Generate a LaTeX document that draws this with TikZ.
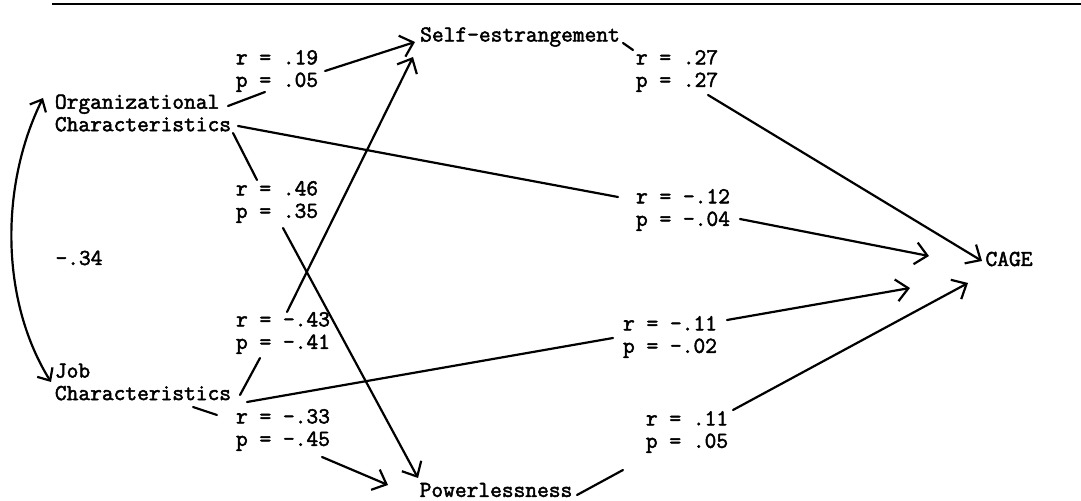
\documentclass[tikz,border=0pt]{standalone}
\usepackage{fontspec}
\newfontfamily\typewriter{Latin Modern Mono}[FakeBold=2.2]
\usetikzlibrary{arrows.meta,calc}
\begin{document}
\begin{tikzpicture}[x=0.5pt,y=-0.5pt,
  txt/.style={font=\typewriter\bfseries\fontsize{11.4}{11.25}\selectfont, inner sep=0pt, align=left},
  con/.style={line width=1.1pt, line cap=round},
  arr/.style={con, -{Straight Barb[length=6pt,width=11pt,line width=1.1pt]}},
  darr/.style={con, {Straight Barb[length=5pt,width=9pt,line width=1.1pt]}-{Straight Barb[length=5pt,width=9pt,line width=1.1pt]}},
  rule/.style={line width=1.3pt}]
\useasboundingbox (0,0) rectangle (1081,501);

% top rule
\coordinate (ruleL) at (52,4);
\coordinate (ruleR) at (1081,4);
\draw[rule] (ruleL) -- (ruleR);

% variables
\node[txt] (org)  at (143,113) {Organizational\\Characteristics};
\node[txt] (job)  at (143,382) {Job\\Characteristics};
\node[txt] (self) at (520,37)  {Self-estrangement};
\node[txt] (pow)  at (496,490) {Powerlessness};
\node[txt] (cage) at (1009,259) {CAGE};
\node[txt] (corr) at (79,258) {-.34};

% coefficient labels
\node[txt] (l1) at (277,71)  {r = .19\\p = .05};
\node[txt] (l2) at (677,71)  {r = .27\\p = .27};
\node[txt] (l3) at (277,202) {r = .46\\p = .35};
\node[txt] (l4) at (283,333) {r = -.43\\p = -.41};
\node[txt] (l5) at (683,210) {r = -.12\\p = -.04};
\node[txt] (l6) at (670,337) {r = -.11\\p = -.02};
\node[txt] (l7) at (283,430) {r = -.33\\p = -.45};
\node[txt] (l8) at (687,432) {r = .11\\p = .05};

% Organizational -> Self-estrangement
\draw[con] ($(org.center)+(85,-7)$) -- ($(l1.center)+(-12,21)$);
\draw[arr] ($(l1.center)+(48,0)$) -- ($(self.center)+(-105,5)$);
% Organizational -> CAGE
\draw[con] ($(org.center)+(95,13)$) -- ($(l5.center)+(-65,-13)$);
\draw[arr] ($(l5.center)+(57,9)$) -- ($(cage.center)+(-80,-3)$);
% Organizational -> Powerlessness
\draw[con] ($(org.center)+(90,20)$) -- ($(l3.center)+(-20,-22)$);
\draw[arr] ($(l3.center)+(6,26)$) -- ($(pow.center)+(-78,-12)$);
% Job -> Self-estrangement
\draw[con] ($(job.center)+(97,13)$) -- ($(l4.center)+(-23,25)$);
\draw[arr] ($(l4.center)+(4,-21)$) -- ($(self.center)+(-107,20)$);
% Job -> CAGE
\draw[con] ($(job.center)+(104,20)$) -- ($(l6.center)+(-57,1)$);
\draw[arr] ($(l6.center)+(57,-17)$) -- ($(cage.center)+(-99,29)$);
% Job -> Powerlessness
\draw[con] ($(job.center)+(50,25)$) -- ($(l7.center)+(-66,-15)$);
\draw[arr] ($(l7.center)+(39,27)$) -- ($(pow.center)+(-108,-5)$);
% Self-estrangement -> CAGE
\draw[con] ($(self.center)+(103,6)$) -- ($(l2.center)+(-44,-21)$);
\draw[arr] ($(l2.center)+(31,24)$) -- ($(cage.center)+(-27,2)$);
% Powerlessness -> CAGE
\draw[con] ($(pow.center)+(81,5)$) -- ($(l8.center)+(-64,38)$);
\draw[arr] ($(l8.center)+(46,-22)$) -- ($(cage.center)+(-41,24)$);

% correlation between exogenous variables
\draw[darr] ($(org.center)+(-100,-15)$)
  .. controls ($(org.center)+(-143,72)$) and ($(job.center)+(-143,-82)$)
  .. ($(job.center)+(-92,0)$);
\end{tikzpicture}
\end{document}
